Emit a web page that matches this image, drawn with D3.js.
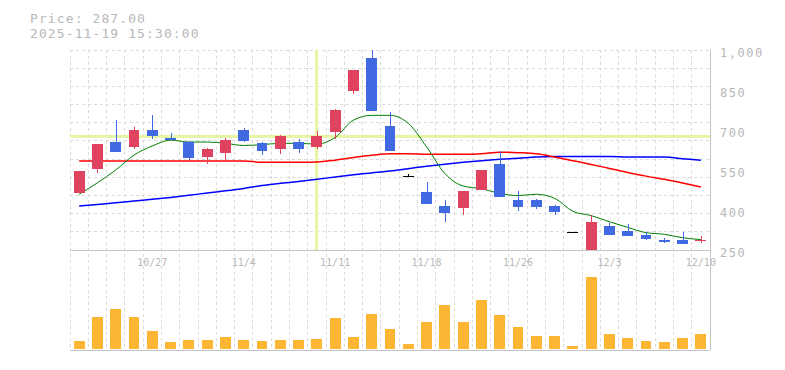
<!DOCTYPE html>
<html lang="ja">
<head>
  <meta charset="UTF-8" />
  <title>Price Chart</title>
  <script src="https://d3js.org/d3.v7.min.js"></script>
  <style>
    body {
      margin: 0;
      background: #fff;
    }
    svg {
      display: block;
      font-family: "DejaVu Sans Mono", "Liberation Mono", monospace;
    }
    .grid line {
      stroke: #dadada;
      stroke-dasharray: 3 3;
      shape-rendering: crispEdges;
    }
    .axis-line {
      stroke: #c4c4c4;
      shape-rendering: crispEdges;
    }
    .label {
      fill: #b8b8b8;
    }
  </style>
</head>
<body>
  <svg id="chart" width="785" height="370"></svg>

  <script>
    // daily candles, 10/21 - 12/10
    const dates = ["10/21","10/22","10/23","10/24","10/27","10/28","10/29","10/30","10/31",
      "11/4","11/5","11/6","11/7","11/10","11/11","11/12","11/13","11/14","11/17","11/18",
      "11/19","11/20","11/21","11/25","11/26","11/27","11/28","12/1","12/2","12/3",
      "12/4","12/5","12/8","12/9","12/10"];
    const opens  = [465,555,656,637,700,670,656,597,615,700,651,630,655,636,694,847,970,715,526,467,
      415,409,476,572,437,437,415,316,250,340,321,306,289,287,286];
    const highs  = [548,647,737,710,756,689,658,634,670,707,656,682,666,697,777,925,1000,769,534,505,
      437,471,550,621,471,441,420,316,382,351,347,316,294,317,304];
    const lows   = [462,540,619,630,667,662,587,574,589,656,607,611,615,630,665,836,772,622,526,424,
      356,382,476,450,397,405,382,316,250,306,302,287,276,272,275];
    const closes = [546,647,619,700,679,662,596,629,662,660,622,677,630,677,775,925,772,622,526,424,
      390,471,550,450,412,412,394,316,355,306,302,291,280,272,287];
    const volumes = [73,310,390,310,173,63,83,83,113,83,73,83,83,93,303,113,343,190,43,263,
      433,263,483,333,213,123,123,23,713,143,103,73,63,103,143];

    // moving averages
    const ma5  = [459,502,550,606,640,662,655,655,650,642,645,650,650,647,672,737,755,755,725,637,
      537,490,480,462,454,459,444,395,379,356,335,315,309,296,289];
    const ma25 = [584,584,584,584,584,584,584,584,584,584,579,579,579,580,587,597,605,611,611,609,
      609,609,611,617,615,611,599,585,571,556,541,527,515,501,486];
    const ma75 = [415,421,427,434,440,447,455,464,472,481,492,500,507,515,524,532,539,546,555,564,
      572,579,585,590,594,599,601,601,601,601,599,599,599,592,587];

    const tickLabels = ["10/27","11/4","11/11","11/18","11/26","12/3","12/10"];
    const priceTicks = [1000, 850, 700, 550, 400, 250];
    const infoLines = ["Price: 287.00", "2025-11-19 15:30:00"];
    const cursorDate = "11/10";
    const cursorPrice = 675;

    const svg = d3.select("#chart");
    const pLeft = 70, pRight = 710, pTop = 50, priceBottom = 250, volTop = 270, pBottom = 350;

    const x = d3.scaleBand()
      .domain(dates)
      .range([pLeft, pRight])
      .paddingInner(0.4)
      .paddingOuter(0.2);
    const cx = d => x(d) + x.bandwidth() / 2;

    const y = d3.scaleLinear().domain([250, 1000]).range([priceBottom, pTop]);
    const yv = d3.scaleLinear().domain([0, 780]).range([348.5, volTop]);

    const candles = dates.map((d, i) => ({
      date: d, o: opens[i], h: highs[i], l: lows[i], c: closes[i], v: volumes[i],
      m5: ma5[i], m25: ma25[i], m75: ma75[i]
    }));

    // grid: vertical lines between candles, square cells in price panel
    const grid = svg.append("g").attr("class", "grid");
    const step = x.step();
    const vx = d3.range(dates.length).map(i => pLeft + step * i);
    grid.selectAll(".gv").data(vx).join("line")
      .attr("x1", d => d).attr("x2", d => d)
      .attr("y1", pTop).attr("y2", pBottom);
    const hy = d3.range(11).map(k => pTop + k * (priceBottom - pTop) / 11);
    grid.selectAll(".gh").data(hy).join("line")
      .attr("x1", pLeft).attr("x2", pRight)
      .attr("y1", d => d).attr("y2", d => d);

    // crosshair
    svg.append("line")
      .attr("x1", pLeft).attr("x2", pRight)
      .attr("y1", y(cursorPrice)).attr("y2", y(cursorPrice))
      .attr("stroke", "#e6f5a6").attr("stroke-width", 3)
      .attr("shape-rendering", "crispEdges");
    svg.append("line")
      .attr("x1", cx(cursorDate)).attr("x2", cx(cursorDate))
      .attr("y1", pTop).attr("y2", priceBottom)
      .attr("stroke", "#e6f5a6").attr("stroke-width", 3)
      .attr("shape-rendering", "crispEdges");

    svg.append("clipPath").attr("id", "pclip")
      .append("rect").attr("x", pLeft).attr("y", pTop - 2)
      .attr("width", pRight - pLeft).attr("height", priceBottom - pTop + 2);

    const price = svg.append("g").attr("clip-path", "url(#pclip)");

    // moving averages
    const maLine = key => d3.line().curve(d3.curveMonotoneX).x(d => cx(d.date)).y(d => y(d[key]));
    [["m75", "#0000ff", 1.5], ["m25", "#ff0000", 1.5], ["m5", "#008000", 1]].forEach(([k, col, w]) => {
      price.append("path")
        .datum(candles)
        .attr("fill", "none")
        .attr("stroke", col)
        .attr("stroke-width", w)
        .attr("d", maLine(k));
    });

    const candleColor = d => d.c > d.o ? "#e0435f" : d.c < d.o ? "#4169e1" : "#000";

    const cg = price.selectAll(".candle").data(candles).join("g")
      .attr("shape-rendering", "crispEdges");
    cg.append("line")
      .attr("x1", d => Math.round(cx(d.date)) + 0.5)
      .attr("x2", d => Math.round(cx(d.date)) + 0.5)
      .attr("y1", d => y(d.h)).attr("y2", d => y(d.l))
      .attr("stroke", candleColor);
    cg.append("rect")
      .attr("x", d => x(d.date))
      .attr("width", x.bandwidth())
      .attr("y", d => y(Math.max(d.o, d.c)))
      .attr("height", d => Math.max(1, Math.abs(y(d.o) - y(d.c))))
      .attr("fill", candleColor);

    // volume
    svg.selectAll(".vol").data(candles).join("rect")
      .attr("x", d => x(d.date))
      .attr("width", x.bandwidth())
      .attr("y", d => yv(d.v))
      .attr("height", d => yv(0) - yv(d.v))
      .attr("fill", "#fdb633")
      .attr("shape-rendering", "crispEdges");

    // axis lines
    [[pLeft, priceBottom, pRight, priceBottom], [pLeft, pBottom, pRight, pBottom], [pRight, pTop, pRight, pBottom]]
      .forEach(([x1, y1, x2, y2]) => {
        svg.append("line").attr("class", "axis-line")
          .attr("x1", x1).attr("y1", y1).attr("x2", x2).attr("y2", y2);
      });

    // price labels
    svg.selectAll(".ptick").data(priceTicks).join("text")
      .attr("class", "label")
      .attr("x", 720)
      .attr("y", d => y(d) + 7)
      .attr("font-size", 12)
      .attr("letter-spacing", 1.5)
      .text(d3.format(","));

    // date labels
    svg.selectAll(".dtick").data(tickLabels).join("text")
      .attr("class", "label")
      .attr("x", d => cx(d))
      .attr("y", 266)
      .attr("font-size", 10)
      .attr("text-anchor", "middle")
      .text(d => d);

    // info text
    svg.selectAll(".info").data(infoLines).join("text")
      .attr("class", "label")
      .attr("x", 30)
      .attr("y", (d, i) => 23 + i * 15)
      .attr("font-size", 13)
      .attr("letter-spacing", 1.1)
      .text(d => d);
  </script>
</body>
</html>
